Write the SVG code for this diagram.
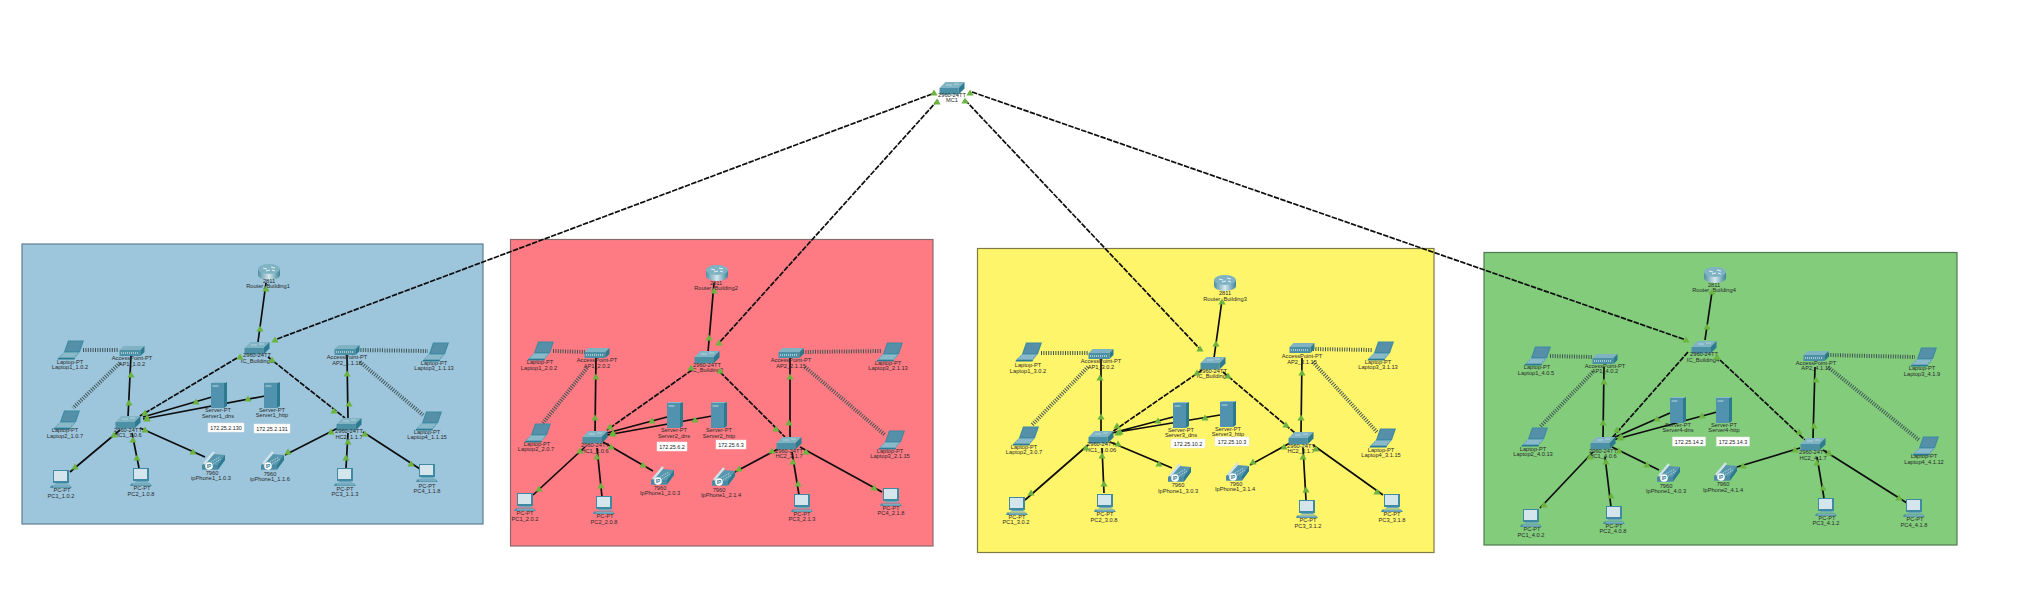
<svg xmlns="http://www.w3.org/2000/svg" width="2032" height="600" viewBox="0 0 2032 600">
<style>
text{font-family:"Liberation Sans",Arial,sans-serif;font-size:5.7px;fill:#2a2a2a;text-anchor:middle;dominant-baseline:central}
.area{stroke-width:1.2}
.s{stroke:#0d0d0d;stroke-width:1.7;fill:none}
.d{stroke:#0d0d0d;stroke-width:1.7;stroke-dasharray:5.5 1.3;fill:none}
.w{stroke:#3f5555;stroke-width:4;stroke-dasharray:1 1.4;fill:none}
.ipb{fill:#fff;stroke:#e8e8e8;stroke-width:.5}
.ipt{font-size:5.4px;fill:#222}
</style>
<defs>
<linearGradient id="rg" x1="0" y1="0" x2="1" y2="0"><stop offset="0" stop-color="#4f8fa3"/><stop offset=".5" stop-color="#d5e8ee"/><stop offset="1" stop-color="#3f8397"/></linearGradient>
<g id="sw"><polygon points="-12.5,0 -6.5,-6 12.5,-6 6.5,0" fill="#80b4c4"/><rect x="-12.5" y="0" width="19" height="6.5" fill="#4c90a6"/><polygon points="6.5,0 12.5,-6 12.5,.5 6.5,6.5" fill="#2c7a90"/><path d="M-6,-3H0M2,-4H7" stroke="#d8eaf0" stroke-width=".6"/></g>
<g id="ap"><polygon points="-12.5,-1 -8.5,-5 12.5,-5 8.5,-1" fill="#7fb3c3"/><rect x="-12.5" y="-1" width="21" height="6" fill="#4c90a6"/><polygon points="8.500,-1 12.500,-5 12.500,1 8.500,5" fill="#2c7a90"/><path d="M-11,2H7" stroke="#fff" stroke-width="1" stroke-dasharray="1 1"/></g>
<g id="rt"><path d="M-11,-3V3A11,5 0 0 0 11,3V-3Z" fill="url(#rg)"/><ellipse cy="-3" rx="11" ry="5" fill="#7fb3c3"/><path d="M-6,-4L-2,-3M2,-5L6,-4M-3,-1L1,-2M3,-2L6,-1" stroke="#fff" stroke-width=".8"/></g>
<g id="lt"><polygon points="-6,2 -2,-9.500 14,-9.500 10,2" fill="#3f8aa2"/><polygon points="-4.500,1 -1,-8.500 12.500,-8.500 9,1" fill="#558fa8"/><polygon points="-6,2 10,2 5,8 -12,8" fill="#6aa6b9"/><polygon points="-12,8 5,8 4.500,9.500 -12.500,9.500" fill="#2c7a90"/><path d="M-7,4H7M-9,6H5" stroke="#d6e8ee" stroke-width=".6"/></g>
<g id="pc"><rect x="-8" y="-9" width="16" height="13" fill="#3f8aa2"/><rect x="-7" y="-8" width="13" height="10" fill="#d4e6ec"/><polygon points="-5,4 6,4 8,5.500 -7,5.500" fill="#6aa6b9"/><polygon points="-10,6.500 9,6.500 11,9 -11,9" fill="#4c90a6"/><path d="M-8,7.800H9" stroke="#cfe3ea" stroke-width=".5"/></g>
<g id="srv"><rect x="-8" y="-12" width="13" height="25" fill="#5193ae"/><polygon points="5,-12 8,-13 8,11 5,13" fill="#2c7a90"/><polygon points="-8,-12 -5,-13 8,-13 5,-12" fill="#8abccc"/><rect x="-6.500" y="-10" width="6" height="2" fill="#86b5c6"/></g>
<g id="ph"><polygon points="-10,4 2,-7 13,-6 13,-1 6,8.500 -10,8.500" fill="#5796ad"/><polygon points="6,4 13,-6 13,-1 6,8.500" fill="#2c7a90"/><polygon points="-10,4 6,4 6,8.500 -10,8.500" fill="#4a8ba3"/><path d="M-8,3L2,-9" stroke="#cfe3ea" stroke-width="2.400"/><path d="M-1,1L8,-4M1,3L9,-2" stroke="#a9cfdb" stroke-width="1.200" stroke-dasharray="1 1"/><circle cx="-3" cy="5" r="3.800" fill="#fff"/><text x="-3" y="5" style="font-size:4.8px;font-weight:bold;fill:#2c7a90">IP</text></g>
<polygon id="t" points="0,-3.500 3.600,2.600 -3.600,2.600" fill="#6cb33f"/>
</defs>
<rect width="2032" height="600" fill="#fff"/>
<g id="areas">
<rect class="area" x="22" y="244" width="461" height="280" fill="#9dc6dd" stroke="#5f7f8f"/>
<rect class="area" x="510.500" y="239.500" width="422.500" height="306.500" fill="#ff7b84" stroke="#8a6a6e"/>
<rect class="area" x="977.500" y="248.500" width="456.500" height="304" fill="#fff56a" stroke="#7d7a45"/>
<rect class="area" x="1484" y="252.500" width="473" height="292.500" fill="#82cc7c" stroke="#4f7a4f"/>
</g>
<g id="connectors">
<path class="d" d="M932,94L277,339M938,100L719,343M965,100L1200,349M972,92L1686,340"/>
<g id="links-1">
<path class="s" d="M266,283L258,342M128,417L131,355M143,417L212,397M143,419L265,396M140,428L205,457M120,430L70,472M132,433L139,468M338,428L285,455M348,420L347,355M348,433L346,468M363,432L420,469"/>
<path class="d" d="M237,358L140,416M268,357L345,418"/>
<path class="w" d="M83,350L119,350M120,363L73,408M358,350L428,351M360,362L423,415"/>
</g>
<g id="links-2">
<path class="s" d="M714,283L708,352M595,433L596,357M607,433L667,417M607,435L712,416M603,442L653,471M585,447L533,495M597,448L602,497M790,437L790,357M778,449L733,473M792,452L799,495M800,447L882,492"/>
<path class="d" d="M692,370L607,430M720,372L785,437"/>
<path class="w" d="M553,351L585,352M587,368L543,423M803,352L882,351M805,367L885,435"/>
</g>
<g id="links-3">
<path class="s" d="M1222,300L1214,358M1101,432L1101,358M1112,433L1173,417M1112,433L1220,415M1110,442L1172,468M1088,445L1025,500M1102,448L1104,493M1301,432L1302,358M1290,443L1250,465M1303,448L1306,500M1313,445L1383,495"/>
<path class="d" d="M1202,370L1112,432M1223,372L1295,433"/>
<path class="w" d="M1041,353L1088,353M1088,367L1032,425M1313,349L1373,350M1313,362L1377,432"/>
</g>
<g id="links-4">
<path class="s" d="M1712,292L1705,340M1603,438L1604,367M1613,438L1670,413M1613,440L1717,412M1612,447L1659,470M1593,452L1540,508M1605,457L1611,507M1813,438L1815,367M1800,448L1737,467M1817,457L1824,498M1823,450L1907,503"/>
<path class="d" d="M1688,352L1612,438M1720,360L1805,440"/>
<path class="w" d="M1550,356L1593,357M1593,372L1540,427M1828,355L1915,357M1828,367L1919,440"/>
</g>
</g>
<g id="mc1"><use href="#sw" x="952" y="88"/><text x="952" y="95">2960-24TT</text><text x="952" y="100">MC1</text></g>

<g id="building1">
<g id="b1-router"><use href="#rt" x="269" y="272"/><text x="269" y="281">2811</text><text x="268" y="286">Router_Building1</text></g>
<g id="b1-ic"><use href="#sw" x="257" y="348"/><text x="257" y="355">2960-24TT</text><text x="257" y="361">IC_Building1</text></g>
<g id="b1-ap1"><use href="#ap" x="132" y="351"/><text x="132" y="358">AccessPoint-PT</text><text x="132" y="364">AP1_1.0.2</text></g>
<g id="b1-lt1"><use href="#lt" x="70" y="350"/><text x="70" y="362">Laptop-PT</text><text x="70" y="367">Laptop1_1.0.2</text></g>
<g id="b1-lt2"><use href="#lt" x="66" y="420"/><text x="65" y="430">Laptop-PT</text><text x="65" y="436">Laptop2_1.0.7</text></g>
<g id="b1-hc1"><use href="#sw" x="128" y="422"/><text x="128" y="430">2960-24TT</text><text x="128" y="435">HC1_1.0.6</text></g>
<g id="b1-s1"><use href="#srv" x="219" y="395"/><text x="218" y="410">Server-PT</text><text x="218" y="416">Server1_dns</text></g>
<g id="b1-s2"><use href="#srv" x="272" y="395"/><text x="272" y="410">Server-PT</text><text x="272" y="415">Server1_http</text></g>
<g id="b1-ip1"><rect class="ipb" x="208" y="423" width="36" height="9"/><text class="ipt" x="226" y="427.500">172.25.2.130</text></g>
<g id="b1-ip2"><rect class="ipb" x="254" y="424" width="36" height="9"/><text class="ipt" x="272" y="428.500">172.25.2.131</text></g>
<g id="b1-pc1"><use href="#pc" x="61" y="479"/><text x="62" y="490">PC-PT</text><text x="61" y="496">PC1_1.0.2</text></g>
<g id="b1-pc2"><use href="#pc" x="141" y="477"/><text x="142" y="488">PC-PT</text><text x="141" y="494">PC2_1.0.8</text></g>
<g id="b1-ph1"><use href="#ph" x="212" y="461"/><text x="212" y="473">7960</text><text x="211" y="478">ipPhone1_1.0.3</text></g>
<g id="b1-ph2"><use href="#ph" x="271" y="461"/><text x="270" y="474">7960</text><text x="270" y="479">ipPhone1_1.1.6</text></g>
<g id="b1-ap2"><use href="#ap" x="347" y="350"/><text x="347" y="357">AccessPoint-PT</text><text x="347" y="363">AP2_1.1.15</text></g>
<g id="b1-lt3"><use href="#lt" x="435" y="352"/><text x="434" y="363">Laptop-PT</text><text x="434" y="368">Laptop3_1.1.13</text></g>
<g id="b1-lt4"><use href="#lt" x="428" y="421"/><text x="427" y="432">Laptop-PT</text><text x="427" y="437">Laptop4_1.1.15</text></g>
<g id="b1-hc2"><use href="#sw" x="349" y="424"/><text x="349" y="431">2960-24TT</text><text x="349" y="437">HC2_1.1.7</text></g>
<g id="b1-pc3"><use href="#pc" x="345" y="477"/><text x="345" y="489">PC-PT</text><text x="345" y="494">PC3_1.1.3</text></g>
<g id="b1-pc4"><use href="#pc" x="427" y="473"/><text x="427" y="486">PC-PT</text><text x="427" y="491">PC4_1.1.8</text></g>
</g>

<g id="building2">
<g id="b2-router"><use href="#rt" x="717" y="273"/><text x="716" y="283">2811</text><text x="716" y="288">Router_Building2</text></g>
<g id="b2-ic"><use href="#sw" x="707" y="357"/><text x="707" y="365">2960-24TT</text><text x="707" y="370">IC_Building2</text></g>
<g id="b2-ap1"><use href="#ap" x="597" y="353"/><text x="597" y="360">AccessPoint-PT</text><text x="597" y="366">AP1_2.0.2</text></g>
<g id="b2-lt1"><use href="#lt" x="540" y="351"/><text x="540" y="362">Laptop-PT</text><text x="539" y="368">Laptop1_2.0.2</text></g>
<g id="b2-lt2"><use href="#lt" x="537" y="433"/><text x="537" y="444">Laptop-PT</text><text x="536" y="449">Laptop2_2.0.7</text></g>
<g id="b2-hc1"><use href="#sw" x="595" y="437"/><text x="595" y="445">2960-24TT</text><text x="595" y="451">HC1_2.0.6</text></g>
<g id="b2-s1"><use href="#srv" x="675" y="415"/><text x="674" y="430">Server-PT</text><text x="674" y="436">Server2_dns</text></g>
<g id="b2-s2"><use href="#srv" x="719" y="415"/><text x="719" y="430">Server-PT</text><text x="719" y="436">Server2_http</text></g>
<g id="b2-ip1"><rect class="ipb" x="657" y="442" width="30" height="9"/><text class="ipt" x="672" y="446.500">172.25.6.2</text></g>
<g id="b2-ip2"><rect class="ipb" x="716" y="440" width="30" height="9"/><text class="ipt" x="731" y="444.500">172.25.6.3</text></g>
<g id="b2-ph1"><use href="#ph" x="661" y="476"/><text x="660" y="488">7960</text><text x="660" y="493">IpPhone1_2.0.3</text></g>
<g id="b2-ph2"><use href="#ph" x="722" y="477"/><text x="719" y="490">7960</text><text x="721" y="495">IpPhone1_2.1.4</text></g>
<g id="b2-pc1"><use href="#pc" x="525" y="502"/><text x="525" y="513">PC-PT</text><text x="525" y="519">PC1_2.0.2</text></g>
<g id="b2-pc2"><use href="#pc" x="604" y="505"/><text x="605" y="516">PC-PT</text><text x="604" y="522">PC2_2.0.8</text></g>
<g id="b2-pc3"><use href="#pc" x="802" y="503"/><text x="802" y="514">PC-PT</text><text x="802" y="519">PC3_2.1.3</text></g>
<g id="b2-pc4"><use href="#pc" x="891" y="497"/><text x="891" y="508">PC-PT</text><text x="891" y="513">PC4_2.1.8</text></g>
<g id="b2-ap2"><use href="#ap" x="791" y="353"/><text x="791" y="360">AccessPoint-PT</text><text x="791" y="366">AP2_2.1.15</text></g>
<g id="b2-lt3"><use href="#lt" x="889" y="352"/><text x="888" y="363">Laptop-PT</text><text x="888" y="368">Laptop3_2.1.13</text></g>
<g id="b2-lt4"><use href="#lt" x="891" y="440"/><text x="890" y="451">Laptop-PT</text><text x="890" y="456">Laptop3_2.1.15</text></g>
<g id="b2-hc2"><use href="#sw" x="789" y="443"/><text x="789" y="451">2960-24TT</text><text x="789" y="456">HC2_2.1.7</text></g>
</g>

<g id="building3">
<g id="b3-router"><use href="#rt" x="1225" y="283"/><text x="1225" y="293">2811</text><text x="1225" y="299">Router_Building3</text></g>
<g id="b3-ic"><use href="#sw" x="1213" y="363"/><text x="1213" y="371">2960-24TT</text><text x="1213" y="376">IC_Building3</text></g>
<g id="b3-ap1"><use href="#ap" x="1101" y="354"/><text x="1101" y="361">AccessPoint-PT</text><text x="1101" y="367">AP1_3.0.2</text></g>
<g id="b3-lt1"><use href="#lt" x="1028" y="352"/><text x="1028" y="365">Laptop-PT</text><text x="1028" y="371">Laptop1_3.0.2</text></g>
<g id="b3-lt2"><use href="#lt" x="1025" y="436"/><text x="1024" y="447">Laptop-PT</text><text x="1024" y="452">Laptop2_3.0.7</text></g>
<g id="b3-hc1"><use href="#sw" x="1101" y="437"/><text x="1101" y="444">2960-24TT</text><text x="1101" y="450">HC1_3.0.06</text></g>
<g id="b3-s1"><use href="#srv" x="1181" y="415"/><text x="1181" y="430">Server-PT</text><text x="1181" y="435">Server3_dns</text></g>
<g id="b3-s2"><use href="#srv" x="1228" y="414"/><text x="1228" y="429">Server-PT</text><text x="1228" y="434">Server3_http</text></g>
<g id="b3-ip1"><rect class="ipb" x="1171" y="439" width="34" height="9"/><text class="ipt" x="1188" y="443.500">172.25.10.2</text></g>
<g id="b3-ip2"><rect class="ipb" x="1215" y="437" width="34" height="9"/><text class="ipt" x="1232" y="441.500">172.25.10.3</text></g>
<g id="b3-ph1"><use href="#ph" x="1178" y="473"/><text x="1178" y="485">7960</text><text x="1178" y="491">IpPhone1_3.0.3</text></g>
<g id="b3-ph2"><use href="#ph" x="1236" y="472"/><text x="1236" y="484">7960</text><text x="1235" y="489">IpPhone1_3.1.4</text></g>
<g id="b3-pc1"><use href="#pc" x="1017" y="506"/><text x="1017" y="517">PC-PT</text><text x="1016" y="522">PC1_3.0.2</text></g>
<g id="b3-pc2"><use href="#pc" x="1105" y="503"/><text x="1105" y="514">PC-PT</text><text x="1104" y="520">PC2_3.0.8</text></g>
<g id="b3-pc3"><use href="#pc" x="1307" y="509"/><text x="1308" y="520">PC-PT</text><text x="1308" y="526">PC3_3.1.2</text></g>
<g id="b3-pc4"><use href="#pc" x="1392" y="503"/><text x="1392" y="514">PC-PT</text><text x="1392" y="520">PC3_3.1.8</text></g>
<g id="b3-ap2"><use href="#ap" x="1302" y="348"/><text x="1302" y="356">AccessPoint-PT</text><text x="1302" y="362">AP2_3.1.15</text></g>
<g id="b3-lt3"><use href="#lt" x="1380" y="351"/><text x="1378" y="362">Laptop-PT</text><text x="1378" y="367">Laptop3_3.1.13</text></g>
<g id="b3-lt4"><use href="#lt" x="1382" y="438"/><text x="1381" y="450">Laptop-PT</text><text x="1381" y="455">Laptop4_3.1.15</text></g>
<g id="b3-hc2"><use href="#sw" x="1301" y="438"/><text x="1301" y="446">2960-24TT</text><text x="1301" y="451">HC2_3.1.7</text></g>
</g>

<g id="building4">
<g id="b4-router"><use href="#rt" x="1715" y="275"/><text x="1714" y="285">2811</text><text x="1714" y="290">Router_Building4</text></g>
<g id="b4-ic"><use href="#sw" x="1704" y="347"/><text x="1704" y="354">2960-24TT</text><text x="1703" y="360">IC_Building4</text></g>
<g id="b4-ap1"><use href="#ap" x="1605" y="359"/><text x="1605" y="366">AccessPoint-PT</text><text x="1605" y="371">AP1_4.0.2</text></g>
<g id="b4-lt1"><use href="#lt" x="1537" y="356"/><text x="1537" y="367">Laptop-PT</text><text x="1536" y="373">Laptop1_4.0.5</text></g>
<g id="b4-lt2"><use href="#lt" x="1534" y="437"/><text x="1533" y="449">Laptop-PT</text><text x="1533" y="454">Laptop2_4.0.13</text></g>
<g id="b4-hc1"><use href="#sw" x="1603" y="443"/><text x="1603" y="451">2960-24TT</text><text x="1603" y="456">HC1_4.0.6</text></g>
<g id="b4-s1"><use href="#srv" x="1678" y="410"/><text x="1678" y="425">Server-PT</text><text x="1678" y="430">Server4-dns</text></g>
<g id="b4-s2"><use href="#srv" x="1724" y="410"/><text x="1724" y="425">Server-PT</text><text x="1724" y="430">Server4-http</text></g>
<g id="b4-ip1"><rect class="ipb" x="1672.500" y="437" width="33" height="9"/><text class="ipt" x="1689" y="441.500">172.25.14.2</text></g>
<g id="b4-ip2"><rect class="ipb" x="1716.500" y="437" width="33" height="9"/><text class="ipt" x="1733" y="441.500">172.25.14.3</text></g>
<g id="b4-ph1"><use href="#ph" x="1667" y="473"/><text x="1666" y="486">7960</text><text x="1666" y="491">IpPhone1_4.0.3</text></g>
<g id="b4-ph2"><use href="#ph" x="1724" y="472"/><text x="1723" y="484">7960</text><text x="1723" y="490">IpPhone2_4.1.4</text></g>
<g id="b4-pc1"><use href="#pc" x="1531" y="518"/><text x="1532" y="529">PC-PT</text><text x="1531" y="535">PC1_4.0.2</text></g>
<g id="b4-pc2"><use href="#pc" x="1614" y="515"/><text x="1614" y="526">PC-PT</text><text x="1613" y="531">PC2_4.0.8</text></g>
<g id="b4-pc3"><use href="#pc" x="1826" y="507"/><text x="1827" y="518">PC-PT</text><text x="1826" y="523">PC3_4.1.2</text></g>
<g id="b4-pc4"><use href="#pc" x="1914" y="508"/><text x="1915" y="519">PC-PT</text><text x="1914" y="525">PC4_4.1.8</text></g>
<g id="b4-ap2"><use href="#ap" x="1816" y="356"/><text x="1816" y="363">AccessPoint-PT</text><text x="1816" y="368">AP2_4.1.11</text></g>
<g id="b4-lt3"><use href="#lt" x="1923" y="357"/><text x="1922" y="368">Laptop-PT</text><text x="1922" y="374">Laptop3_4.1.9</text></g>
<g id="b4-lt4"><use href="#lt" x="1925" y="446"/><text x="1924" y="456">Laptop-PT</text><text x="1924" y="462">Laptop4_4.1.12</text></g>
<g id="b4-hc2"><use href="#sw" x="1813" y="444"/><text x="1813" y="452">2960-24TT</text><text x="1813" y="458">HC2_4.1.7</text></g>
</g>

<g id="link-lights">
<use href="#t" x="934" y="93"/><use href="#t" x="970" y="93"/><use href="#t" x="937" y="102"/><use href="#t" x="965" y="101"/>
<use href="#t" x="275" y="340"/><use href="#t" x="719" y="343"/><use href="#t" x="1200" y="349"/><use href="#t" x="1686" y="340"/>
<use href="#t" x="266" y="289"/><use href="#t" x="260" y="329"/><use href="#t" x="240" y="357"/><use href="#t" x="145" y="413"/><use href="#t" x="272" y="360"/><use href="#t" x="334" y="411"/><use href="#t" x="129" y="403"/><use href="#t" x="131" y="375"/><use href="#t" x="147" y="418"/><use href="#t" x="196" y="402"/><use href="#t" x="147" y="419"/><use href="#t" x="248" y="399"/><use href="#t" x="145" y="430"/><use href="#t" x="193" y="452"/><use href="#t" x="114" y="435"/><use href="#t" x="75" y="467"/><use href="#t" x="133" y="440"/><use href="#t" x="137" y="458"/><use href="#t" x="331" y="432"/><use href="#t" x="288" y="452"/><use href="#t" x="349" y="404"/><use href="#t" x="347" y="374"/><use href="#t" x="348" y="442"/><use href="#t" x="346" y="458"/><use href="#t" x="365" y="434"/><use href="#t" x="411" y="464"/>
<use href="#t" x="714" y="291"/><use href="#t" x="709" y="338"/><use href="#t" x="691" y="368"/><use href="#t" x="610" y="427"/><use href="#t" x="720" y="371"/><use href="#t" x="776" y="429"/><use href="#t" x="595" y="418"/><use href="#t" x="596" y="377"/><use href="#t" x="613" y="434"/><use href="#t" x="652" y="421"/><use href="#t" x="613" y="433"/><use href="#t" x="695" y="420"/><use href="#t" x="611" y="447"/><use href="#t" x="643" y="465"/><use href="#t" x="580" y="451"/><use href="#t" x="539" y="489"/><use href="#t" x="597" y="457"/><use href="#t" x="601" y="486"/><use href="#t" x="789" y="423"/><use href="#t" x="790" y="377"/><use href="#t" x="772" y="451"/><use href="#t" x="739" y="469"/><use href="#t" x="793" y="462"/><use href="#t" x="798" y="484"/><use href="#t" x="806" y="452"/><use href="#t" x="874" y="488"/>
<use href="#t" x="1222" y="302"/><use href="#t" x="1216" y="344"/><use href="#t" x="1197" y="373"/><use href="#t" x="1117" y="426"/><use href="#t" x="1228" y="376"/><use href="#t" x="1286" y="425"/><use href="#t" x="1101" y="417"/><use href="#t" x="1100" y="378"/><use href="#t" x="1120" y="432"/><use href="#t" x="1158" y="421"/><use href="#t" x="1118" y="433"/><use href="#t" x="1205" y="418"/><use href="#t" x="1118" y="444"/><use href="#t" x="1159" y="464"/><use href="#t" x="1086" y="448"/><use href="#t" x="1031" y="493"/><use href="#t" x="1102" y="456"/><use href="#t" x="1104" y="484"/><use href="#t" x="1301" y="418"/><use href="#t" x="1302" y="373"/><use href="#t" x="1284" y="447"/><use href="#t" x="1253" y="462"/><use href="#t" x="1303" y="457"/><use href="#t" x="1306" y="490"/><use href="#t" x="1316" y="449"/><use href="#t" x="1377" y="492"/>
<use href="#t" x="1712" y="292"/><use href="#t" x="1707" y="327"/><use href="#t" x="1617" y="430"/><use href="#t" x="1799" y="432"/><use href="#t" x="1717" y="357"/><use href="#t" x="1603" y="423"/><use href="#t" x="1604" y="382"/><use href="#t" x="1621" y="437"/><use href="#t" x="1657" y="419"/><use href="#t" x="1620" y="438"/><use href="#t" x="1702" y="416"/><use href="#t" x="1619" y="451"/><use href="#t" x="1647" y="465"/><use href="#t" x="1590" y="457"/><use href="#t" x="1544" y="505"/><use href="#t" x="1606" y="462"/><use href="#t" x="1611" y="496"/><use href="#t" x="1814" y="426"/><use href="#t" x="1816" y="380"/><use href="#t" x="1795" y="450"/><use href="#t" x="1743" y="466"/><use href="#t" x="1817" y="463"/><use href="#t" x="1823" y="488"/><use href="#t" x="1829" y="453"/><use href="#t" x="1899" y="498"/>
</g>
</svg>
